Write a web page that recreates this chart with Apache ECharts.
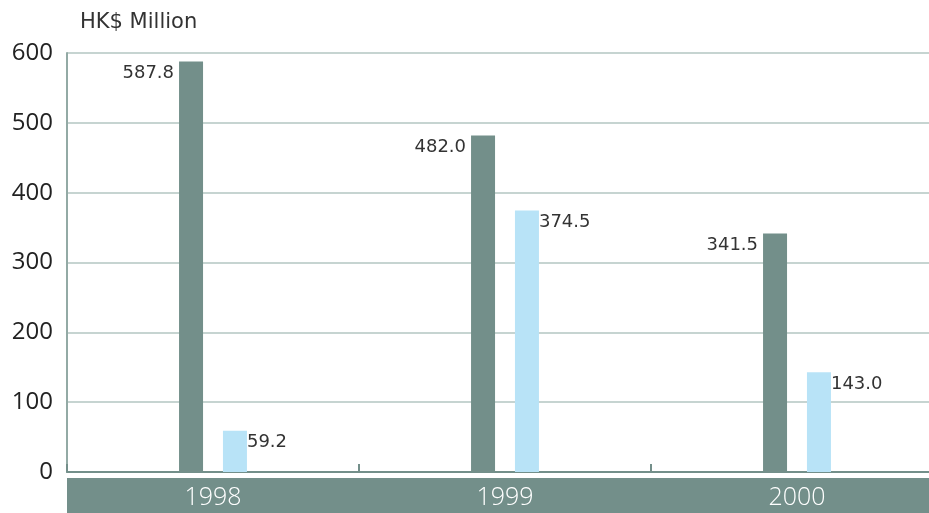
<!DOCTYPE html>
<html>
<head>
<meta charset="utf-8">
<script src="https://cdn.jsdelivr.net/npm/echarts@6/dist/echarts.min.js"></script>
<style>
  html, body { margin: 0; padding: 0; background: #fff; }
  #chart { width: 929px; height: 513px; }
</style>
</head>
<body>
<div id="chart"></div>
<script>
// 数据
const years = ['1998', '1999', '2000']
const darkValues = [587.8, 482.0, 341.5]
const lightValues = [59.2, 374.5, 143.0]
const yTicks = [0, 100, 200, 300, 400, 500, 600]

const chart = echarts.init(document.getElementById('chart'))

const textFont = '"Open Sans", "Noto Sans", sans-serif'
const labelFont = '"DejaVu Sans", sans-serif'

const option = {
  animation: false,
  title: {
    text: 'HK$ Million',
    left: 75,
    top: 7,
    textStyle: {
      color: '#333',
      fontSize: 21,
      fontWeight: 'normal',
      fontFamily: labelFont
    }
  },
  grid: {
    left: 67,
    top: 53,
    width: 876,
    height: 419,
    containLabel: false,
    outerBoundsMode: 'none'
  },
  xAxis: {
    type: 'category',
    data: years,
    axisLine: {
      lineStyle: { color: '#738f8a', width: 2 }
    },
    axisTick: {
      show: true,
      inside: true,
      length: 8,
      interval: 0,
      lineStyle: { color: '#738f8a', width: 2 }
    },
    axisLabel: {
      interval: 0,
      hideOverlap: false,
      margin: 6,
      color: '#fff',
      fontSize: 25,
      fontWeight: 300,
      fontFamily: textFont,
      backgroundColor: '#738f8a',
      width: 292,
      height: 31,
      lineHeight: 31,
      padding: [4, 0, 0, 0],
      align: 'center'
    }
  },
  yAxis: {
    type: 'value',
    min: yTicks[0],
    max: yTicks[yTicks.length - 1],
    interval: 100,
    axisLine: {
      show: true,
      lineStyle: { color: '#93aaa5', width: 2 }
    },
    axisTick: { show: false },
    axisLabel: {
      color: '#222',
      fontSize: 24,
      margin: 14,
      fontFamily: textFont
    },
    splitLine: {
      lineStyle: { color: '#c6d4d1', width: 2 }
    }
  },
  series: [
    {
      name: 'dark',
      type: 'bar',
      data: darkValues,
      barWidth: 24,
      barGap: '83%',
      itemStyle: { color: '#738f8a' },
      label: {
        show: true,
        position: [-5, 3],
        align: 'right',
        verticalAlign: 'top',
        color: '#333',
        fontSize: 18,
        fontFamily: labelFont,
        formatter: p => p.value.toFixed(1)
      }
    },
    {
      name: 'light',
      type: 'bar',
      data: lightValues,
      barWidth: 24,
      itemStyle: { color: '#b8e3f7' },
      label: {
        show: true,
        position: ['100%', 3],
        align: 'left',
        verticalAlign: 'top',
        distance: 0,
        color: '#333',
        fontSize: 18,
        fontFamily: labelFont,
        formatter: p => p.value.toFixed(1)
      }
    }
  ]
}

chart.setOption(option)
</script>
</body>
</html>
